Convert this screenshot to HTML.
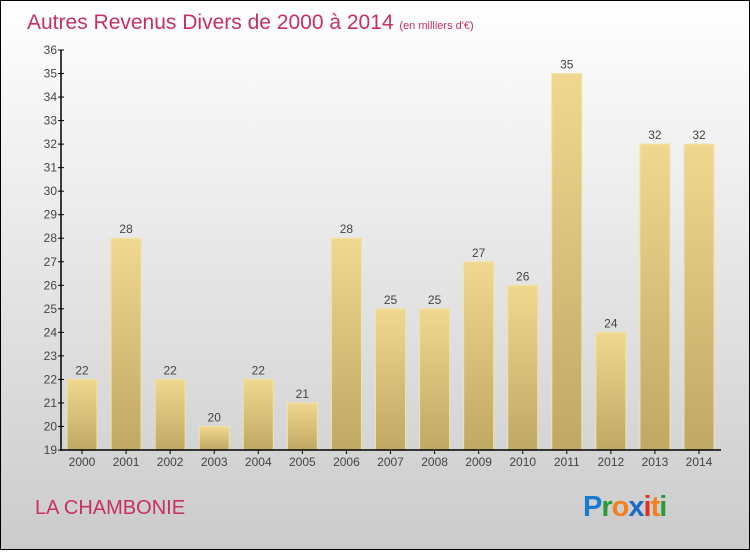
<!DOCTYPE html>
<html><head><meta charset="utf-8"><style>
html,body{margin:0;padding:0}
body{width:750px;height:550px;overflow:hidden;font-family:"Liberation Sans",sans-serif}
</style></head><body>
<svg width="750" height="550" xmlns="http://www.w3.org/2000/svg">
<defs>
<linearGradient id="bg" x1="0" y1="0" x2="0" y2="1"><stop offset="0" stop-color="#ffffff"/><stop offset="1" stop-color="#cbcbcb"/></linearGradient>
<linearGradient id="bar" x1="0" y1="0" x2="0" y2="1"><stop offset="0" stop-color="#f0d890"/><stop offset="1" stop-color="#c0a865"/></linearGradient>
</defs>
<rect x="0.5" y="0.5" width="749" height="549" fill="url(#bg)" stroke="#000"/>
<text x="27" y="29" font-size="21" fill="#c8305f">Autres Revenus Divers de 2000 à 2014 <tspan font-size="11">(en milliers d'€)</tspan></text>
<g id="bars"></g>
<g id="axes"></g>
<text x="35" y="514" font-size="20" fill="#c8305f">LA CHAMBONIE</text>
<text x="583" y="516" font-size="29" font-weight="bold" letter-spacing="-1"><tspan fill="#1a7ad0">P</tspan><tspan fill="#2a9a3a">r</tspan><tspan fill="#f08020">o</tspan><tspan fill="#1a6ac8">x</tspan><tspan fill="#e03020">i</tspan><tspan fill="#f08020">t</tspan><tspan fill="#2a9a3a">i</tspan></text>
</svg>
<script>
const years=["2000","2001","2002","2003","2004","2005","2006","2007","2008","2009","2010","2011","2012","2013","2014"];
const values=[22,28,22,20,22,21,28,25,25,27,26,35,24,32,32];
const yTicks=[19,20,21,22,23,24,25,26,27,28,29,30,31,32,33,34,35,36];
const NS="http://www.w3.org/2000/svg";
const y=v=>450-(v-19)*400/17;
const x=i=>82+i*617/14;
function mk(t,a,p,txt){const e=document.createElementNS(NS,t);for(const k in a)e.setAttribute(k,a[k]);if(txt!==undefined)e.textContent=txt;p.appendChild(e);return e;}
const gb=document.getElementById('bars'),ga=document.getElementById('axes');
values.forEach((v,i)=>{
 const r=mk('rect',{x:x(i)-15,y:y(v),width:30,height:450-y(v),fill:'url(#bar)',stroke:'#f3e2a8','stroke-width':1},gb);
 
 
 const l=mk('text',{x:x(i),y:y(v)-5,'font-size':12,fill:'#444','text-anchor':'middle'},gb,String(v));
 
 
 const xl=mk('text',{x:x(i),y:466,'font-size':12,fill:'#444','text-anchor':'middle'},ga,years[i]);
 
 
 mk('line',{x1:x(i),x2:x(i),y1:450,y2:454,stroke:'#000'},ga);
});
yTicks.forEach(t=>{
 mk('line',{x1:58,x2:64,y1:y(t),y2:y(t),stroke:'#000'},ga);
 const tl=mk('text',{x:57,y:y(t)+4,'font-size':12,fill:'#444','text-anchor':'end'},ga,String(t));
 
 
});
const ya=mk('line',{x1:61,x2:61,y1:50,y2:451,stroke:'#000','stroke-width':1.5},ga);


const xa=mk('line',{x1:60,x2:721,y1:450,y2:450,stroke:'#000','stroke-width':1.5},ga);


</script>
</body></html>
